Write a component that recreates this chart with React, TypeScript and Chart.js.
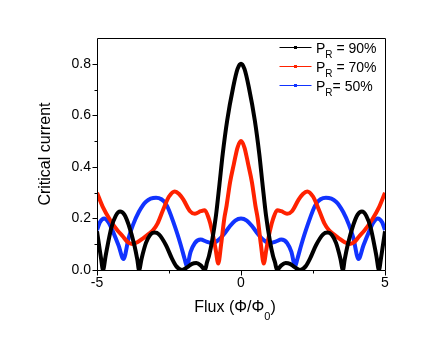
import React, { useEffect, useRef } from "react";
import { Chart, registerables } from "chart.js";

Chart.register(...registerables);

const FONT = '"Liberation Sans", Arial, Helvetica, sans-serif';

// ---- data ----
const blackFlux = [-5, -4.92, -4.86, -4.79, -4.7, -4.5, -4.35, -4.2, -4.05, -3.9, -3.7, -3.6, -3.54, -3.45, -3.3, -3.15, -3.0, -2.85, -2.6, -2.4, -2.25, -2.05, -1.85, -1.7, -1.55, -1.4, -1.3, -1.25, -1.18, -1.11, -1.0, -0.87, -0.75, -0.635, -0.48, -0.27, -0.12, 0, 0.12, 0.27, 0.48, 0.635, 0.75, 0.87, 1.0, 1.11, 1.18, 1.25, 1.3, 1.4, 1.55, 1.7, 1.85, 2.05, 2.25, 2.4, 2.6, 2.85, 3.0, 3.15, 3.3, 3.45, 3.54, 3.6, 3.7, 3.9, 4.05, 4.2, 4.35, 4.5, 4.7, 4.79, 4.86, 4.92, 5];
const blackCurrent = [0.15, 0.09, 0.045, 0, 0.055, 0.165, 0.21, 0.227, 0.215, 0.175, 0.095, 0.04, 0, 0.045, 0.105, 0.137, 0.145, 0.138, 0.095, 0.045, 0.015, 0, 0.012, 0.024, 0.027, 0.018, 0.005, 0, 0.03, 0.055, 0.115, 0.21, 0.33, 0.45, 0.58, 0.71, 0.78, 0.8, 0.78, 0.71, 0.58, 0.45, 0.33, 0.21, 0.115, 0.055, 0.03, 0, 0.005, 0.018, 0.027, 0.024, 0.012, 0, 0.015, 0.045, 0.095, 0.138, 0.145, 0.137, 0.105, 0.045, 0, 0.04, 0.095, 0.175, 0.215, 0.227, 0.21, 0.165, 0.055, 0, 0.045, 0.09, 0.15];

const redFlux = [-5, -4.8, -4.55, -4.3, -4.1, -3.95, -3.78, -3.6, -3.39, -3.2, -3.05, -2.9, -2.7, -2.5, -2.3, -2.15, -2.0, -1.77, -1.6, -1.4, -1.26, -1.12, -1.0, -0.88, -0.79, -0.69, -0.58, -0.5, -0.38, -0.25, -0.12, 0, 0.12, 0.25, 0.38, 0.5, 0.58, 0.69, 0.79, 0.88, 1.0, 1.12, 1.26, 1.4, 1.6, 1.77, 2.0, 2.15, 2.3, 2.5, 2.7, 2.9, 3.05, 3.2, 3.39, 3.6, 3.78, 3.95, 4.1, 4.3, 4.55, 4.8, 5];
const redCurrent = [0.3, 0.245, 0.195, 0.155, 0.13, 0.11, 0.101, 0.108, 0.124, 0.14, 0.155, 0.18, 0.235, 0.285, 0.305, 0.295, 0.273, 0.228, 0.218, 0.228, 0.232, 0.2, 0.15, 0.08, 0.025, 0.1, 0.2, 0.25, 0.34, 0.41, 0.475, 0.5, 0.475, 0.41, 0.34, 0.25, 0.2, 0.1, 0.025, 0.08, 0.15, 0.2, 0.232, 0.228, 0.218, 0.228, 0.273, 0.295, 0.305, 0.285, 0.235, 0.18, 0.155, 0.14, 0.124, 0.108, 0.101, 0.11, 0.13, 0.155, 0.195, 0.245, 0.3];

const blueFlux = [-5, -4.9, -4.75, -4.6, -4.45, -4.25, -4.08, -3.9, -3.75, -3.55, -3.3, -2.95, -2.6, -2.3, -2.1, -1.95, -1.88, -1.75, -1.6, -1.4, -1.2, -1.0, -0.8, -0.6, -0.4, -0.2, 0, 0.2, 0.4, 0.6, 0.8, 1.0, 1.2, 1.4, 1.6, 1.75, 1.88, 1.95, 2.1, 2.3, 2.6, 2.95, 3.3, 3.55, 3.75, 3.9, 4.08, 4.25, 4.45, 4.6, 4.75, 4.9, 5];
const blueCurrent = [0.155, 0.185, 0.2, 0.185, 0.15, 0.095, 0.043, 0.125, 0.175, 0.225, 0.265, 0.28, 0.255, 0.17, 0.1, 0.04, 0.015, 0.07, 0.105, 0.118, 0.11, 0.104, 0.115, 0.138, 0.168, 0.192, 0.2, 0.192, 0.168, 0.138, 0.115, 0.104, 0.11, 0.118, 0.105, 0.07, 0.015, 0.04, 0.1, 0.17, 0.255, 0.28, 0.265, 0.225, 0.175, 0.125, 0.043, 0.095, 0.15, 0.185, 0.2, 0.185, 0.155];

const seriesNames = ["90%", "70%", "50%"];
const seriesColors = ["#000000", "#ff2200", "#1133ff"];

const xMajorTicks = [-5, 0, 5];
const xMinorTicks = [-2.5, 2.5];
const yMajorTicks = [0, 0.2, 0.4, 0.6, 0.8];
const yMinorTicks = [0.1, 0.3, 0.5, 0.7];

const xTitle = "Flux (\u03A6/\u03A6";
const xTitleSub = "0";
const xTitleEnd = ")";
const yTitle = "Critical current";

const toPoints = (xs: number[], ys: number[]) => xs.map((x, i) => ({ x, y: ys[i] }));

const framePlugin = {
  id: "framePlugin",
  afterDraw(chart: any) {
    const ctx = chart.ctx as CanvasRenderingContext2D;
    const { left, right, top, bottom } = chart.chartArea;
    const xs = chart.scales.x;
    const ys = chart.scales.y;
    ctx.save();
    ctx.strokeStyle = "#000";
    ctx.lineWidth = 1;
    const L = Math.round(left) + 0.5;
    const R = Math.round(right) + 0.5;
    const T = Math.round(top) + 0.5;
    const B = Math.round(bottom) + 0.5;
    ctx.beginPath();
    ctx.rect(L, T, R - L, B - T);
    ctx.stroke();
    // ticks
    ctx.beginPath();
    yMajorTicks.forEach((v) => {
      const p = Math.round(ys.getPixelForValue(v)) + 0.5;
      ctx.moveTo(L, p);
      ctx.lineTo(L - 5, p);
    });
    yMinorTicks.forEach((v) => {
      const p = Math.round(ys.getPixelForValue(v)) + 0.5;
      ctx.moveTo(L, p);
      ctx.lineTo(L - 3, p);
    });
    xMajorTicks.forEach((v) => {
      const p = Math.round(xs.getPixelForValue(v)) + 0.5;
      ctx.moveTo(p, B);
      ctx.lineTo(p, B + 5);
    });
    xMinorTicks.forEach((v) => {
      const p = Math.round(xs.getPixelForValue(v)) + 0.5;
      ctx.moveTo(p, B);
      ctx.lineTo(p, B + 3);
    });
    ctx.stroke();

    // axis titles
    ctx.fillStyle = "#000";
    ctx.textBaseline = "alphabetic";
    ctx.font = `16px ${FONT}`;
    const w1 = ctx.measureText(xTitle).width;
    ctx.font = `11px ${FONT}`;
    const w2 = ctx.measureText(xTitleSub).width;
    ctx.font = `16px ${FONT}`;
    const w3 = ctx.measureText(xTitleEnd).width;
    const cx = (left + right) / 2 - 6;
    let sx = cx - (w1 + w2 + w3) / 2;
    ctx.textAlign = "left";
    ctx.fillText(xTitle, sx, 312);
    sx += w1;
    ctx.font = `11px ${FONT}`;
    ctx.fillText(xTitleSub, sx, 320);
    sx += w2;
    ctx.font = `16px ${FONT}`;
    ctx.fillText(xTitleEnd, sx, 312);

    ctx.save();
    ctx.translate(50, (top + bottom) / 2);
    ctx.rotate(-Math.PI / 2);
    ctx.textAlign = "center";
    ctx.textBaseline = "alphabetic";
    ctx.font = `16px ${FONT}`;
    ctx.fillText(yTitle, 0, 0);
    ctx.restore();

    // legend
    seriesNames.forEach((name, i) => {
      const ly = 47.5 + 19 * i;
      const base = 52.5 + 19 * i;
      ctx.strokeStyle = seriesColors[i];
      ctx.lineWidth = 1;
      ctx.beginPath();
      ctx.moveTo(279.5, ly);
      ctx.lineTo(311.5, ly);
      ctx.stroke();
      ctx.fillStyle = seriesColors[i];
      ctx.fillRect(294, ly - 1.5, 3, 3);
      ctx.fillStyle = "#000";
      ctx.textAlign = "left";
      ctx.font = `14px ${FONT}`;
      let tx = 316;
      ctx.fillText("P", tx, base);
      tx += ctx.measureText("P").width;
      ctx.font = `10px ${FONT}`;
      ctx.fillText("R", tx, base + 5);
      tx += ctx.measureText("R").width;
      ctx.font = `14px ${FONT}`;
      const rest = i === 2 ? "= " + name : " = " + name;
      ctx.fillText(rest, tx, base);
    });
    ctx.restore();
  },
};

export default function App() {
  const ref = useRef<HTMLCanvasElement>(null);
  useEffect(() => {
    const canvas = ref.current;
    if (!canvas) return;
    const mk = (xs: number[], ys: number[], color: string, label: string) => ({
      label,
      data: toPoints(xs, ys),
      borderColor: color,
      backgroundColor: color,
      borderWidth: 4,
      pointRadius: 0,
      fill: false,
      cubicInterpolationMode: "monotone" as const,
      borderJoinStyle: "round" as const,
    });
    const chart = new Chart(canvas, {
      type: "line",
      data: {
        datasets: [
          mk(blackFlux, blackCurrent, seriesColors[0], "PR = " + seriesNames[0]),
          mk(redFlux, redCurrent, seriesColors[1], "PR = " + seriesNames[1]),
          mk(blueFlux, blueCurrent, seriesColors[2], "PR = " + seriesNames[2]),
        ],
      },
      options: {
        animation: false,
        responsive: false,
        devicePixelRatio: 1,
        layout: { padding: { left: 0, top: 38, right: 51, bottom: 0 } },
        plugins: { legend: { display: false }, tooltip: { enabled: false }, title: { display: false } },
        scales: {
          x: {
            type: "linear",
            min: -5,
            max: 5,
            afterBuildTicks: (s: any) => {
              s.ticks = xMajorTicks.map((v) => ({ value: v }));
            },
            afterFit: (s: any) => {
              s.height = 67;
            },
            grid: { display: false, drawTicks: false },
            border: { display: false },
            ticks: {
              padding: 5,
              autoSkip: false,
              maxRotation: 0,
              color: "#000",
              font: { family: FONT, size: 14 },
              callback: (v: any) => String(v),
            },
          },
          y: {
            type: "linear",
            min: 0,
            max: 0.9,
            afterBuildTicks: (s: any) => {
              s.ticks = yMajorTicks.map((v) => ({ value: v }));
            },
            afterFit: (s: any) => {
              s.width = 97;
            },
            grid: { display: false, drawTicks: false },
            border: { display: false },
            ticks: {
              padding: 6,
              autoSkip: false,
              color: "#000",
              font: { family: FONT, size: 14 },
              callback: (v: any) => Number(v).toFixed(1),
            },
          },
        },
      },
      plugins: [framePlugin],
    });
    return () => chart.destroy();
  }, []);
  return (
    <div style={{ position: "absolute", left: 0, top: 0, width: 436, height: 337, background: "#fff" }}>
      <canvas ref={ref} width={436} height={337} style={{ display: "block", width: 436, height: 337 }} />
    </div>
  );
}
